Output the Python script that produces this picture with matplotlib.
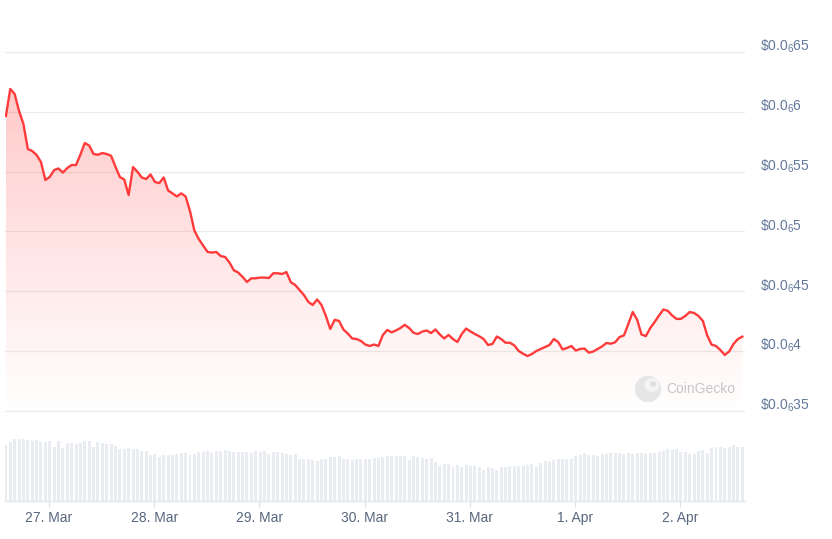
import matplotlib
matplotlib.use("Agg")
import matplotlib.pyplot as plt
import matplotlib.dates as mdates
from matplotlib.patches import Circle
import numpy as np
from datetime import datetime, timedelta

plt.rcParams["mathtext.fontset"] = "custom"
plt.rcParams["mathtext.rm"] = "Liberation Sans"
plt.rcParams["mathtext.it"] = "Liberation Sans:italic"
plt.rcParams["mathtext.bf"] = "Liberation Sans:bold"

# ---- data (price in units of 1e-6 USD, hourly) ----
start_time = datetime(2025, 3, 26, 14, 10)
price = [
    0.5965, 0.6191, 0.6149, 0.6007, 0.5898, 0.5689, 0.5672, 0.5639, 0.5580, 0.5430,
    0.5455, 0.5513, 0.5526, 0.5492, 0.5530, 0.5555, 0.5555, 0.5643, 0.5739, 0.5718,
    0.5647, 0.5641, 0.5655, 0.5647, 0.5632, 0.5540, 0.5455, 0.5434, 0.5304, 0.5538,
    0.5499, 0.5451, 0.5438, 0.5476, 0.5413, 0.5404, 0.5451, 0.5342, 0.5318, 0.5292,
    0.5318, 0.5292, 0.5170, 0.5007, 0.4936, 0.4882, 0.4828, 0.4823, 0.4828, 0.4794,
    0.4786, 0.4740, 0.4675, 0.4656, 0.4619, 0.4577, 0.4608, 0.4608, 0.4614, 0.4614,
    0.4610, 0.4650, 0.4650, 0.4644, 0.4660, 0.4575, 0.4552, 0.4510, 0.4468, 0.4410,
    0.4385, 0.4431, 0.4385, 0.4293, 0.4184, 0.4261, 0.4251, 0.4180, 0.4146, 0.4105,
    0.4100, 0.4084, 0.4054, 0.4042, 0.4054, 0.4042, 0.4134, 0.4176, 0.4156, 0.4172,
    0.4192, 0.4219, 0.4192, 0.4152, 0.4142, 0.4163, 0.4171, 0.4150, 0.4180, 0.4138,
    0.4105, 0.4134, 0.4100, 0.4075, 0.4142, 0.4188, 0.4163, 0.4142, 0.4123, 0.4100,
    0.4050, 0.4059, 0.4121, 0.4100, 0.4069, 0.4069, 0.4046, 0.4000, 0.3977, 0.3958,
    0.3975, 0.4000, 0.4017, 0.4033, 0.4050, 0.4100, 0.4075, 0.4013, 0.4025, 0.4042,
    0.4004, 0.4017, 0.4021, 0.3986, 0.3996, 0.4017, 0.4038, 0.4067, 0.4061, 0.4073,
    0.4117, 0.4130, 0.4226, 0.4326, 0.4263, 0.4138, 0.4125, 0.4192, 0.4242, 0.4297,
    0.4347, 0.4336, 0.4297, 0.4268, 0.4269, 0.4293, 0.4326, 0.4318, 0.4293, 0.4252,
    0.4130, 0.4053, 0.4042, 0.4008, 0.3967, 0.3996, 0.4059, 0.4100, 0.4120,
]
volume = [
    56, 58.7, 61.7, 62, 61.7, 61, 60, 61, 58.7, 58.7, 59.7, 53.7, 60, 53, 57.7, 57.7,
    57, 58.3, 59.7, 59.7, 53.7, 58.7, 57.7, 57, 56.7, 55, 52, 52, 53, 52.3, 51.7, 50,
    50, 46.3, 47, 44, 46, 46, 46, 46.7, 47.7, 47.7, 46, 47.3, 48.7, 48.7, 49.7, 48,
    49.7, 50, 50.7, 50.3, 49, 49, 49, 49, 48, 49.7, 48.7, 49.7, 47.3, 49, 49, 48,
    47.3, 46.3, 47,
    42, 42, 42, 41, 40, 42, 42, 44, 44, 45, 42, 42, 41, 42, 42, 42, 42, 43, 43, 44,
    45, 45, 45, 45, 45, 41, 45, 44, 43, 42, 43, 39, 35, 37, 37, 34, 36, 34, 36, 35,
    35, 34, 31, 34, 33, 31, 34, 34, 35, 35, 35, 35, 36, 37, 34, 38, 40, 39, 41, 42,
    42, 42, 42, 45, 46, 48, 46, 46, 45, 47, 47, 48, 48, 48, 47, 48, 47, 48, 48, 47,
    48, 48, 49, 50, 52, 51, 52, 49, 49, 47, 47, 50, 51, 48, 53, 54, 54, 53, 54, 56,
    54, 54,
]
y_ticks = [0.35, 0.40, 0.45, 0.50, 0.55, 0.60, 0.65]
y_tick_labels = [r"\$0.0${}_{6}$35", r"\$0.0${}_{6}$4", r"\$0.0${}_{6}$45",
                 r"\$0.0${}_{6}$5", r"\$0.0${}_{6}$55", r"\$0.0${}_{6}$6",
                 r"\$0.0${}_{6}$65"]
x_tick_dates = [datetime(2025, 3, 27), datetime(2025, 3, 28), datetime(2025, 3, 29),
                datetime(2025, 3, 30), datetime(2025, 3, 31), datetime(2025, 4, 1),
                datetime(2025, 4, 2)]
x_tick_labels = ["27. Mar", "28. Mar", "29. Mar", "30. Mar", "31. Mar", "1. Apr", "2. Apr"]

n = min(len(price), len(volume))
price = price[:n]
volume = volume[:n]
times = [start_time + timedelta(hours=i) for i in range(n)]
t = mdates.date2num(times)

W, H = 832, 539
fig = plt.figure(figsize=(W / 100, H / 100), dpi=100)
fig.patch.set_facecolor("white")

def fbox(l, r, top, bot):
    return [l / W, 1 - bot / H, (r - l) / W, (bot - top) / H]

# x range
day_px = 105.2
x27 = mdates.date2num(datetime(2025, 3, 27))
xmin = x27 - (49 - 5) / day_px
xmax = x27 + (745 - 49) / day_px

# main price axes
ax = fig.add_axes(fbox(5, 745, 20, 420))
ax.set_facecolor("none")
px_per_val = 59.8 / 0.05
ymax = 0.40 + (351 - 20) / px_per_val
ymin = 0.40 - (420 - 351) / px_per_val

for v in y_ticks:
    ax.axhline(v, color="#ececec", lw=0.9, zorder=0)

red = "#ff3b3b"
ax.plot(t, price, color=red, lw=1.7, zorder=4, solid_joinstyle="round")

# gradient fill under curve
poly = ax.fill_between(t, price, ymin, color="none", lw=0)
ny = 256
alpha = np.linspace(0.0, 1.0, ny)[:, None]  # bottom -> top
a_bottom, a_top = 0.0, 0.30
alphas = a_bottom + (a_top - a_bottom) * alpha ** 1.1
grad = np.zeros((ny, 2, 4))
grad[..., 0] = 1.0
grad[..., 1] = 0.23
grad[..., 2] = 0.23
grad[..., 3] = np.repeat(alphas, 2, axis=1)
im = ax.imshow(grad, extent=[t[0], t[-1], ymin, 0.64], origin="lower",
               aspect="auto", zorder=2, interpolation="bilinear")
im.set_clip_path(poly.get_paths()[0], transform=ax.transData)

ax.set_xlim(xmin, xmax)
ax.set_ylim(ymin, ymax)
ax.axis("off")

# right-side price labels
for v, lab in zip(y_ticks, y_tick_labels):
    ypx = 351 - (v - 0.40) * px_per_val - 1
    fig.text(760 / W, 1 - ypx / H, lab, ha="left", va="baseline", fontsize=10,
             color="#62789b", family=["Liberation Sans", "DejaVu Sans"])

# volume axes
vax = fig.add_axes(fbox(5, 745, 438, 501))
vax.set_facecolor("none")
vax.bar(t, volume, width=0.68 / 24, color="#e9edf2", align="center", zorder=1)
vax.set_xlim(xmin, xmax)
vax.set_ylim(0, 63)
for s in ["top", "left", "right"]:
    vax.spines[s].set_visible(False)
vax.spines["bottom"].set_color("#e3e7ee")
vax.spines["bottom"].set_linewidth(1.0)
vax.set_yticks([])
vax.set_xticks(mdates.date2num(x_tick_dates))
vax.set_xticklabels(x_tick_labels, family=["Liberation Sans", "DejaVu Sans"])
vax.tick_params(axis="x", length=4, width=0.9, color="#dde2ea", labelsize=10,
                labelcolor="#58667e", pad=3.5)

# CoinGecko watermark
wm = fig.add_axes([0, 0, 1, 1])
wm.set_xlim(0, W)
wm.set_ylim(H, 0)
wm.axis("off")
wm.add_patch(Circle((648, 389), 12.5, color="#e6e6e6", zorder=1))
wm.add_patch(Circle((652, 385), 6.5, color="#f4f4f4", zorder=2))
wm.add_patch(Circle((653, 384), 2.2, color="#e0e0e0", zorder=3))
wm.text(666, 389, "CoinGecko", ha="left", va="center", fontsize=10,
        color="#c6c6c6", family=["Liberation Sans", "DejaVu Sans"])

fig.savefig("out.png", dpi=100, facecolor="white")
